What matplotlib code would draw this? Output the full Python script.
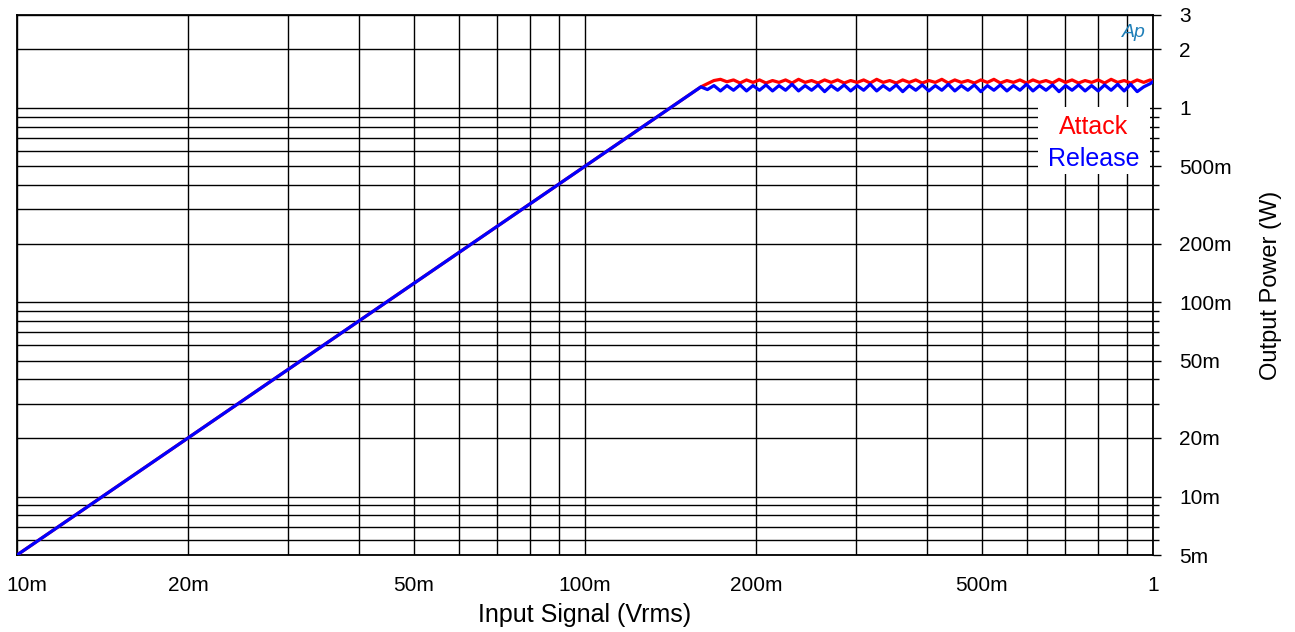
import matplotlib
matplotlib.use('Agg')
import matplotlib.pyplot as plt
from matplotlib.ticker import FixedLocator, NullFormatter
from matplotlib.transforms import ScaledTranslation
from matplotlib.patches import Rectangle

plt.rcParams['font.family'] = ['Liberation Sans', 'DejaVu Sans']

# input sweep levels (mVrms), shared by both traces
input_mv = [10, 160,
            164.3, 168.7, 173.2, 177.8, 182.6, 187.5, 192.5, 197.6, 202.9, 208.3,
            213.9, 219.6, 225.5, 231.5, 237.7, 244.1, 250.6, 257.3, 264.2, 271.3,
            278.5, 286.0, 293.6, 301.5, 309.5, 317.8, 326.3, 335.0, 344.0, 353.2,
            362.6, 372.3, 382.3, 392.5, 403.0, 413.8, 424.9, 436.2, 447.9, 459.9,
            472.2, 484.8, 497.8, 511.1, 524.8, 538.8, 553.2, 568.0, 583.2, 598.8,
            614.8, 631.3, 648.2, 665.5, 683.3, 701.6, 720.4, 739.7, 759.5, 779.8,
            800.7, 822.1, 844.1, 866.7, 889.9, 913.7, 938.1, 963.2, 989.0, 1000]

# output power (W)
attack_w = [0.005, 1.28,
            1.33, 1.38, 1.40, 1.36, 1.39, 1.34, 1.39, 1.35, 1.39, 1.34,
            1.38, 1.35, 1.39, 1.34, 1.40, 1.35, 1.38, 1.34, 1.39, 1.35,
            1.39, 1.34, 1.38, 1.35, 1.39, 1.34, 1.40, 1.35, 1.38, 1.34,
            1.39, 1.35, 1.39, 1.34, 1.38, 1.35, 1.40, 1.34, 1.39, 1.35,
            1.38, 1.34, 1.39, 1.35, 1.40, 1.34, 1.38, 1.35, 1.39, 1.34,
            1.39, 1.35, 1.38, 1.34, 1.40, 1.35, 1.39, 1.34, 1.38, 1.35,
            1.39, 1.34, 1.40, 1.35, 1.38, 1.34, 1.39, 1.35, 1.39, 1.37]

release_w = [0.005, 1.28,
             1.24, 1.30, 1.22, 1.30, 1.23, 1.31, 1.22, 1.30, 1.23, 1.31,
             1.22, 1.30, 1.23, 1.32, 1.22, 1.30, 1.23, 1.31, 1.21, 1.30,
             1.23, 1.31, 1.22, 1.30, 1.23, 1.32, 1.22, 1.30, 1.23, 1.31,
             1.21, 1.30, 1.23, 1.31, 1.22, 1.30, 1.23, 1.32, 1.22, 1.30,
             1.23, 1.31, 1.21, 1.30, 1.23, 1.31, 1.22, 1.30, 1.23, 1.32,
             1.22, 1.30, 1.23, 1.31, 1.21, 1.30, 1.23, 1.31, 1.22, 1.30,
             1.22, 1.31, 1.23, 1.32, 1.22, 1.32, 1.21, 1.28, 1.33, 1.36]

input_v = [v / 1000 for v in input_mv]

x_ticks = [0.01, 0.02, 0.05, 0.1, 0.2, 0.5, 1]
x_labels = ['10m', '20m', '50m', '100m', '200m', '500m', '1']
y_ticks = [0.005, 0.01, 0.02, 0.05, 0.1, 0.2, 0.5, 1, 2, 3]
y_labels = ['5m', '10m', '20m', '50m', '100m', '200m', '500m', '1', '2', '3']

fig = plt.figure(figsize=(12.95, 6.32), dpi=100)
ax = fig.add_axes([0.01313, 0.1218, 0.87717, 0.8545])

ax.plot(input_v, attack_w, color='#ff0000', lw=2.3, zorder=3)
ax.plot(input_v, release_w, color='#0000ff', lw=2.3, zorder=4)

ax.set_xscale('log')
ax.set_yscale('log')
ax.set_xlim(0.01, 1)
ax.set_ylim(0.005, 3)

ax.xaxis.set_major_locator(FixedLocator(x_ticks))
ax.set_xticklabels(x_labels)
ax.xaxis.set_minor_locator(FixedLocator([0.03, 0.04, 0.06, 0.07, 0.08, 0.09,
                                         0.3, 0.4, 0.6, 0.7, 0.8, 0.9]))
ax.xaxis.set_minor_formatter(NullFormatter())

ax.yaxis.set_major_locator(FixedLocator(y_ticks))
ax.set_yticklabels(y_labels)
ax.yaxis.set_minor_locator(FixedLocator([0.006, 0.007, 0.008, 0.009,
                                         0.03, 0.04, 0.06, 0.07, 0.08, 0.09,
                                         0.3, 0.4, 0.6, 0.7, 0.8, 0.9]))
ax.yaxis.set_minor_formatter(NullFormatter())
ax.yaxis.tick_right()
ax.yaxis.set_label_position('right')

ax.tick_params(axis='x', which='both', length=0, pad=15, labelsize=15)
ax.tick_params(axis='y', which='major', direction='out', length=6, width=1,
               pad=13, labelsize=15)
ax.tick_params(axis='y', which='minor', direction='out', length=4, width=1)

ax.grid(True, which='both', color='black', lw=1.0)
ax.set_axisbelow(True)
for s in ax.spines.values():
    s.set_linewidth(1.3)

# nudge the first x label so it stays inside the figure
first = ax.get_xticklabels()[0]
first.set_transform(first.get_transform() + ScaledTranslation(0.1, 0, fig.dpi_scale_trans))

ax.set_xlabel('Input Signal (Vrms)', fontsize=18, labelpad=6)
ax.set_ylabel('Output Power (W)', fontsize=17, labelpad=20)

# legend box
ax.add_patch(Rectangle((0.899, 0.705), 0.098, 0.124, transform=ax.transAxes,
                       facecolor='white', edgecolor='none', zorder=5))
ax.text(0.948, 0.793, 'Attack', transform=ax.transAxes, color='#ff0000',
        fontsize=18, ha='center', va='center', zorder=6)
ax.text(0.948, 0.733, 'Release', transform=ax.transAxes, color='#0000ff',
        fontsize=18, ha='center', va='center', zorder=6)

ax.text(0.9835, 0.968, 'Ap', transform=ax.transAxes, color='#1f7fb8',
        fontsize=14, style='italic', ha='center', va='center', zorder=6)

fig.savefig('out.png', dpi=100)
